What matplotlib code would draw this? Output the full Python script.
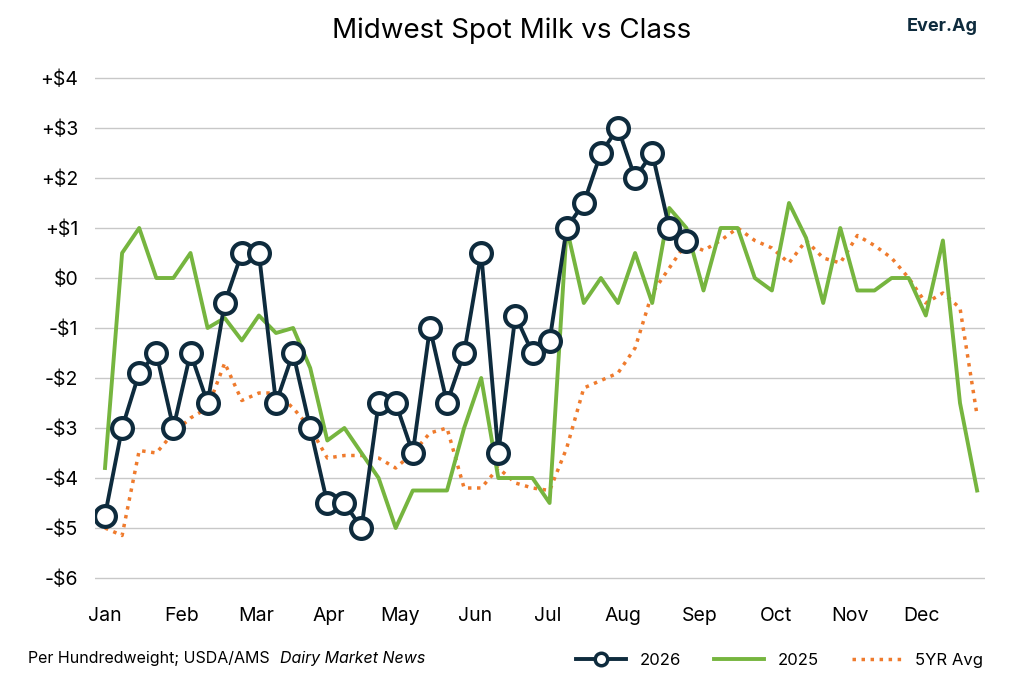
import matplotlib.pyplot as plt
from matplotlib.lines import Line2D

months = ['Jan', 'Feb', 'Mar', 'Apr', 'May', 'Jun', 'Jul', 'Aug', 'Sep', 'Oct', 'Nov', 'Dec']
month_px = [105, 182, 256, 329, 400, 475, 548, 623, 700, 776, 850, 922]

y2026 = [-4.75, -3, -1.9, -1.5, -3, -1.5, -2.5, -0.5, 0.5, 0.5, -2.5, -1.5, -3, -4.5, -4.5, -5,
         -2.5, -2.5, -3.5, -1, -2.5, -1.5, 0.5, -3.5, -0.75, -1.5, -1.25, 1, 1.5, 2.5, 3, 2, 2.5, 1, 0.75]
y2025 = [-3.8, 0.5, 1, 0, 0, 0.5, -1, -0.8, -1.25, -0.75, -1.1, -1, -1.8, -3.25, -3, -3.5, -4, -5,
         -4.25, -4.25, -4.25, -3, -2, -4, -4, -4, -4.5, 1, -0.5, 0, -0.5, 0.5, -0.5, 1.4, 1, -0.25,
         1, 1, 0, -0.25, 1.5, 0.8, -0.5, 1, -0.25, -0.25, 0, 0, -0.75, 0.75, -2.5, -4.25]
avg5 = [-5, -5.15, -3.45, -3.5, -3.1, -2.8, -2.6, -1.7, -2.45, -2.3, -2.3, -2.6, -3.0, -3.6, -3.55,
        -3.55, -3.6, -3.8, -3.5, -3.1, -3.0, -4.2, -4.2, -3.8, -4.1, -4.2, -4.25, -3.4, -2.2, -2.05,
        -1.9, -1.4, -0.3, 0.2, 0.7, 0.55, 0.75, 1.0, 0.75, 0.6, 0.3, 0.75, 0.4, 0.3, 0.85, 0.65, 0.4,
        0, -0.5, -0.3, -0.6, -2.75]
yticks = [4, 3, 2, 1, 0, -1, -2, -3, -4, -5, -6]
ylabels = ['+$4', '+$3', '+$2', '+$1', '$0', '-$1', '-$2', '-$3', '-$4', '-$5', '-$6']

plt.rcParams['font.family'] = ['Inter', 'DejaVu Sans']
navy = '#0e2b3d'
green = '#76b53f'
orange = '#ef7b2d'

fig = plt.figure(figsize=(10.24, 6.83), dpi=100)
ax = fig.add_axes([95 / 1024, 1 - 590 / 683, 890 / 1024, 530 / 683])

step = 17.1
ax.plot(range(len(avg5)), avg5, color=orange, lw=2.5, ls=(0, (1, 1.6)))
ax.plot(range(len(y2025)), y2025, color=green, lw=2.8)
ax.plot(range(len(y2026)), y2026, color=navy, lw=2.8, marker='o', ms=15,
        mfc='white', mec=navy, mew=3)

ax.set_xlim((95 - 105) / step, (985 - 105) / step)
ax.set_ylim(-6.24, 4.36)
ax.set_xticks([(p - 105) / step for p in month_px])
ax.set_xticklabels(months, fontsize=14)
ax.set_yticks(yticks)
ax.set_yticklabels(ylabels, fontsize=14)
ax.tick_params(length=0, pad=12)
ax.grid(axis='y', color='#c8c8c8', lw=1)
for s in ax.spines.values():
    s.set_visible(False)

fig.text(0.5, 0.945, 'Midwest Spot Milk vs Class', ha='center', fontsize=20)
fig.text(0.955, 0.955, 'Ever.Ag', ha='right', fontsize=13, fontweight='bold', color=navy)
fig.text(0.027, 0.03, 'Per Hundredweight; USDA/AMS', fontsize=11.5)
fig.text(0.273, 0.03, 'Dairy Market News', fontsize=11.5, style='italic')

handles = [Line2D([], [], color=navy, lw=2.8, marker='o', ms=9, mfc='white', mec=navy, mew=2.5),
           Line2D([], [], color=green, lw=2.8),
           Line2D([], [], color=orange, lw=2.5, ls=(0, (1, 1.6)))]
fig.legend(handles, ['2026', '2025', '5YR Avg'], loc='lower right', bbox_to_anchor=(0.975, 0.0),
           ncol=3, frameon=False, fontsize=12, handlelength=3)

fig.savefig('out.png', dpi=100)
